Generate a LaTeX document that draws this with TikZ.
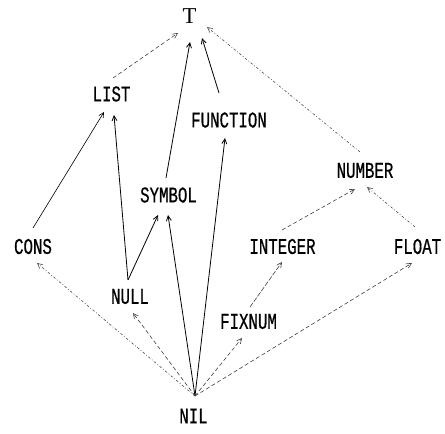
\documentclass[tikz,border=0pt]{standalone}
\usepackage{fontspec}
\usetikzlibrary{arrows.meta,calc}
\newfontfamily\labfont[FakeStretch=0.70,FakeBold=0.6]{Liberation Mono}
\newfontfamily\topfont{Liberation Serif}
\tikzset{
  lab/.style={inner sep=0pt, font=\labfont\fontsize{22.5}{23}\selectfont},
  tip/.style={-{Straight Barb[length=5pt,width=5pt]}},
  solidedge/.style={tip, line width=0.8pt, black},
  dashedge/.style={tip, line width=0.6pt, black!75, dash pattern=on 4pt off 2.5pt},
  dotedge/.style={tip, line width=0.6pt, black!70, dash pattern=on 2.5pt off 2pt on 0.8pt off 2pt},
}
\begin{document}
\begin{tikzpicture}[x=1pt,y=-1pt]
\useasboundingbox (0,0) rectangle (445,434);
\node[inner sep=0pt, font=\topfont\fontsize{22.7}{23}\selectfont] (T) at (189.5,16.5) {T};
\node[lab] (LIST) at (111.5,94) {LIST};
\node[lab] (FUNCTION) at (229,120) {FUNCTION};
\node[lab] (NUMBER) at (365,170.5) {NUMBER};
\node[lab] (SYMBOL) at (168.5,195) {SYMBOL};
\node[lab] (CONS) at (33,246.5) {CONS};
\node[lab] (INTEGER) at (282.5,246.5) {INTEGER};
\node[lab] (FLOAT) at (417.5,246.5) {FLOAT};
\node[lab] (NULL) at (130,296.5) {NULL};
\node[lab] (FIXNUM) at (248.5,321.5) {FIXNUM};
\node[lab] (NIL) at (193.5,416) {NIL};

\draw[dashedge] ($(LIST)+(1.5,-16)$) -- ($(T)+(-11.5,16.5)$);
\draw[solidedge] ($(SYMBOL)+(-2.5,-17)$) -- ($(T)+(0.5,25.5)$);
\draw[solidedge] ($(FUNCTION)+(-10,-27)$) -- ($(T)+(12.5,21.5)$);
\draw[dotedge] ($(NUMBER)+(-5,-18.5)$) -- ($(T)+(17.5,10.5)$);
\draw[solidedge, line width=0.6pt] ($(CONS)+(0,-18.5)$) -- ($(LIST)+(-7.5,18)$);
\draw[solidedge] ($(NULL)+(-2,-16.5)$) -- ($(LIST)+(2.5,21)$);
\draw[solidedge] ($(NULL)+(-2,-16.5)$) -- ($(SYMBOL)+(-10.5,20)$);
\draw[solidedge] ($(NIL)+(1.5,-20)$) -- ($(SYMBOL)+(-0.5,20)$);
\draw[solidedge] ($(NIL)+(1.5,-20)$) -- ($(FUNCTION)+(-4,18)$);
\draw[dotedge] ($(NIL)+(1.5,-20)$) -- ($(CONS)+(4,16.5)$);
\draw[dashedge] ($(NIL)+(1.5,-20)$) -- ($(NULL)+(3,16.5)$);
\draw[dashedge] ($(NIL)+(1.5,-20)$) -- ($(FIXNUM)+(-6.5,16.5)$);
\draw[dashedge] ($(NIL)+(1.5,-20)$) -- ($(FLOAT)+(-5.5,16.5)$);
\draw[dashedge, dash pattern=on 5pt off 1.5pt] ($(FIXNUM)+(1.5,-14.5)$) -- ($(INTEGER)+(-0.5,15.5)$);
\draw[dashedge] ($(INTEGER)+(-0.5,-16.5)$) -- ($(NUMBER)+(-10,18.5)$);
\draw[dotedge] ($(FLOAT)+(-2.5,-19.5)$) -- ($(NUMBER)+(2,16.5)$);
\end{tikzpicture}
\end{document}
